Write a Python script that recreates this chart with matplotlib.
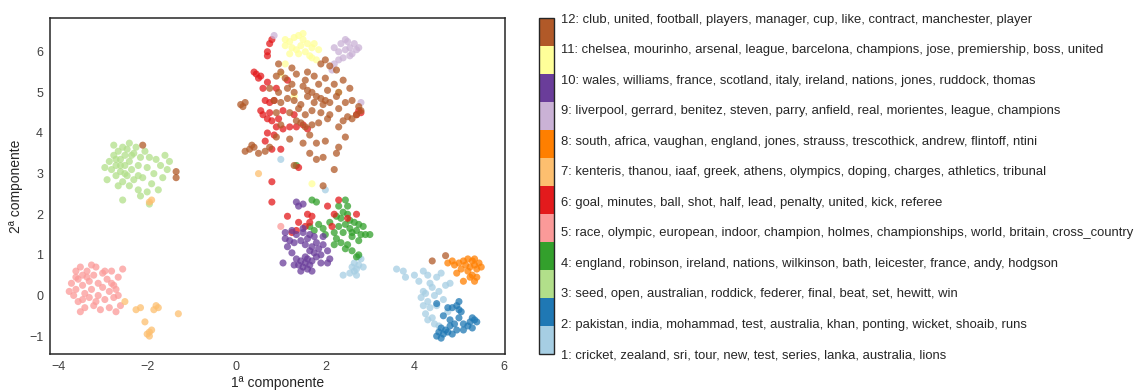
import numpy as np
import matplotlib
matplotlib.use("Agg")
import matplotlib.pyplot as plt
from matplotlib.cm import ScalarMappable
from matplotlib.colors import Normalize

plt.rcParams['font.family'] = ['Liberation Sans', 'DejaVu Sans']

# Topic labels (top words per topic)
topics = [
    "1: cricket, zealand, sri, tour, new, test, series, lanka, australia, lions",
    "2: pakistan, india, mohammad, test, australia, khan, ponting, wicket, shoaib, runs",
    "3: seed, open, australian, roddick, federer, final, beat, set, hewitt, win",
    "4: england, robinson, ireland, nations, wilkinson, bath, leicester, france, andy, hodgson",
    "5: race, olympic, european, indoor, champion, holmes, championships, world, britain, cross_country",
    "6: goal, minutes, ball, shot, half, lead, penalty, united, kick, referee",
    "7: kenteris, thanou, iaaf, greek, athens, olympics, doping, charges, athletics, tribunal",
    "8: south, africa, vaughan, england, jones, strauss, trescothick, andrew, flintoff, ntini",
    "9: liverpool, gerrard, benitez, steven, parry, anfield, real, morientes, league, champions",
    "10: wales, williams, france, scotland, italy, ireland, nations, jones, ruddock, thomas",
    "11: chelsea, mourinho, arsenal, league, barcelona, champions, jose, premiership, boss, united",
    "12: club, united, football, players, manager, cup, like, contract, manchester, player",
]

# 2-D projected document coordinates, grouped by topic
topic1 = [(2.6, 0.7), (2.65, 0.8), (2.7, 0.65), (2.75, 0.75), (2.8, 0.9), (2.7, 0.5),
          (2.55, 0.55), (2.4, 0.5), (2.75, 0.95), (2.85, 0.7), (2.65, 0.6), (1.0, 3.35),
          (3.6, 0.65), (3.75, 0.6), (3.8, 0.45), (4.0, 0.5), (4.2, 0.6), (4.3, 0.5),
          (4.1, 0.35), (4.2, 0.1), (4.15, -0.05), (4.25, 0.05), (4.3, -0.15), (4.2, -0.25),
          (4.35, -0.3), (4.4, 0.2), (4.45, 0.0), (4.25, -0.45), (4.3, -0.6), (4.4, -0.55),
          (4.45, -0.7), (4.55, -0.75), (4.5, -0.25), (4.6, 0.55), (4.55, 0.1), (4.65, -0.1),
          (4.5, 0.45), (4.7, 0.25), (4.8, 0.3), (4.75, -0.4), (4.35, 0.3), (2.0, 2.6)]
topic2 = [(4.5, -1.0), (4.55, -0.9), (4.6, -1.05), (4.65, -0.95), (4.7, -0.85), (4.75, -0.9),
          (4.8, -0.75), (4.85, -0.95), (4.9, -0.7), (4.95, -0.85), (5.0, -0.55), (5.05, -0.4),
          (5.0, -0.35), (4.95, -0.25), (4.85, -0.3), (5.1, -0.7), (5.2, -0.75), (5.25, -0.65),
          (5.3, -0.8), (5.35, -0.6), (5.4, -0.65), (5.3, -0.55), (4.75, -0.3), (4.5, -0.2),
          (4.65, -0.5), (4.8, -0.6), (5.0, -0.15), (5.1, -0.85), (4.6, -0.8)]
topic3 = [(-2.85, 3.3), (-2.8, 3.1), (-2.75, 3.45), (-2.7, 3.2), (-2.7, 2.95), (-2.65, 3.55),
          (-2.6, 3.35), (-2.6, 3.05), (-2.55, 2.8), (-2.55, 3.65), (-2.5, 3.2), (-2.5, 3.45),
          (-2.45, 2.95), (-2.45, 3.6), (-2.4, 3.3), (-2.4, 2.7), (-2.35, 3.1), (-2.3, 3.5),
          (-2.3, 2.85), (-2.25, 3.65), (-2.2, 3.2), (-2.2, 2.6), (-2.15, 3.4), (-2.1, 2.9),
          (-2.05, 3.55), (-2.0, 3.15), (-2.0, 2.55), (-1.95, 3.4), (-1.9, 2.75), (-1.85, 3.0),
          (-1.8, 3.35), (-1.75, 2.6), (-1.7, 3.2), (-1.65, 2.9), (-1.6, 3.45), (-1.55, 3.1),
          (-1.5, 3.3), (-2.9, 2.85), (-2.95, 3.15), (-2.65, 2.7), (-2.55, 2.35), (-2.15, 2.45),
          (-1.95, 2.25), (-2.75, 3.7), (-2.4, 3.75), (-2.6, 3.2), (-2.7, 3.35), (-2.5, 3.0),
          (-2.35, 3.45), (-2.2, 2.95)]
topic4 = [(1.7, 2.35), (1.8, 2.3), (1.65, 1.7), (1.75, 1.6), (1.85, 1.75), (1.95, 1.65),
          (2.0, 1.5), (2.1, 1.8), (2.2, 1.55), (2.25, 1.4), (2.3, 1.7), (2.35, 1.9),
          (2.4, 1.55), (2.45, 1.75), (2.5, 2.0), (2.55, 1.65), (2.6, 1.45), (2.65, 1.8),
          (2.7, 1.6), (2.75, 1.35), (2.8, 1.5), (2.9, 1.5), (3.0, 1.5), (2.5, 2.2),
          (2.45, 2.35), (2.3, 2.2), (2.35, 1.3), (2.5, 1.25), (2.6, 1.1), (2.7, 0.95),
          (2.75, 1.0), (2.45, 1.15), (2.2, 1.25), (2.85, 1.7), (2.55, 1.85), (2.4, 2.05),
          (2.25, 1.95), (2.75, 1.75), (2.6, 1.55), (1.35, 3.2)]
topic5 = [(-3.6, 0.6), (-3.55, 0.4), (-3.6, 0.15), (-3.65, 0.0), (-3.55, -0.15), (-3.5, 0.7),
          (-3.45, 0.5), (-3.45, 0.25), (-3.4, 0.05), (-3.4, -0.3), (-3.35, 0.6), (-3.3, 0.35),
          (-3.3, -0.05), (-3.25, 0.15), (-3.2, 0.5), (-3.2, -0.25), (-3.15, 0.7), (-3.1, 0.3),
          (-3.1, 0.0), (-3.05, -0.35), (-3.0, 0.55), (-3.0, 0.2), (-2.95, -0.1), (-2.9, 0.4),
          (-2.85, 0.1), (-2.85, -0.3), (-2.8, 0.6), (-2.75, 0.25), (-2.75, -0.05), (-2.7, -0.4),
          (-2.65, 0.45), (-2.65, 0.0), (-2.6, -0.25), (-2.55, 0.65), (-3.7, 0.3), (-3.75, 0.1),
          (-3.5, -0.4), (-3.35, 0.45), (-3.25, 0.75), (-2.95, 0.6), (-3.15, -0.15), (-2.8, 0.3),
          (-2.7, 0.15), (-3.6, 0.45), (-3.45, -0.1), (1.0, 1.7)]
topic6 = [(0.8, 6.3), (0.75, 6.2), (0.7, 6.0), (0.7, 5.9), (0.45, 5.45), (0.5, 5.35),
          (0.4, 5.5), (0.55, 5.4), (0.6, 5.1), (0.7, 5.25), (0.75, 4.75), (0.85, 4.8),
          (0.65, 4.8), (0.6, 4.45), (0.7, 4.35), (0.75, 4.5), (0.8, 4.3), (0.55, 4.55),
          (0.9, 4.15), (0.95, 4.35), (1.05, 4.1), (0.85, 3.95), (0.7, 4.0), (0.65, 3.8),
          (0.8, 3.6), (1.0, 3.6), (1.2, 4.15), (1.35, 4.15), (1.5, 4.2), (1.6, 4.1),
          (1.3, 4.45), (1.05, 4.55), (0.9, 5.1), (1.15, 5.3), (2.75, 4.55), (2.7, 4.45),
          (2.8, 4.5), (1.4, 3.15), (0.8, 2.8), (0.8, 2.3), (1.15, 1.95), (1.4, 1.8),
          (1.6, 2.0), (1.7, 1.95), (1.35, 1.6), (1.55, 1.7), (1.65, 1.8), (2.2, 2.0),
          (2.05, 2.2), (2.3, 2.35), (2.15, 1.7), (2.7, 2.0), (2.5, 1.9), (1.25, 1.55)]
topic7 = [(-2.5, -0.15), (-2.25, -0.35), (-2.15, -0.3), (-1.85, -0.35), (-1.75, -0.3),
          (-1.8, -0.25), (-2.05, -0.65), (-1.95, -0.9), (-1.9, -0.85), (-2.0, -0.95),
          (-1.95, -1.0), (-1.3, -0.45), (-1.9, 2.35), (-1.95, 2.3), (0.5, 3.0)]
topic8 = [(4.9, 0.75), (5.0, 0.8), (5.05, 0.65), (5.1, 0.85), (4.85, 0.85), (5.15, 0.75),
          (5.2, 0.6), (5.25, 0.45), (5.3, 0.5), (5.35, 0.35), (5.4, 0.45), (5.3, 0.85),
          (5.35, 0.75), (5.4, 0.65), (5.45, 0.8), (5.5, 0.7), (5.25, 0.7), (5.2, 0.9),
          (5.1, 0.35), (4.95, 0.55), (5.35, 0.9), (4.75, 0.8)]
topic9 = [(2.2, 6.1), (2.3, 6.0), (2.35, 6.2), (2.45, 6.05), (2.5, 6.25), (2.55, 6.1),
          (2.6, 5.95), (2.65, 6.2), (2.7, 6.05), (2.4, 5.85), (2.55, 5.9), (2.3, 5.8),
          (2.45, 6.3), (2.75, 6.1), (2.2, 5.7), (2.15, 5.55), (2.8, 4.75), (0.85, 6.4)]
topic10 = [(1.35, 2.3), (1.4, 2.2), (1.5, 2.25), (1.1, 1.4), (1.1, 1.55), (1.2, 1.35),
           (1.25, 1.6), (1.3, 1.3), (1.35, 1.5), (1.45, 1.35), (1.5, 1.55), (1.55, 1.25),
           (1.6, 1.4), (1.65, 1.5), (1.7, 1.2), (1.75, 1.05), (1.8, 1.3), (1.85, 1.15),
           (1.9, 1.0), (1.95, 1.25), (2.05, 1.1), (1.4, 0.75), (1.45, 0.85), (1.5, 0.7),
           (1.55, 0.8), (1.6, 0.65), (1.6, 0.9), (1.65, 0.75), (1.7, 0.85), (1.55, 0.95),
           (1.35, 0.9), (1.3, 0.75), (1.7, 0.6), (1.45, 0.6), (1.05, 0.8), (1.9, 0.8),
           (2.1, 0.9), (2.05, 0.8), (1.8, 0.95), (1.25, 1.05), (1.75, 1.45), (1.15, 1.2),
           (1.5, 1.65), (1.65, 1.1), (1.95, 1.45)]
topic11 = [(1.1, 6.3), (1.2, 6.25), (1.3, 6.35), (1.4, 6.4), (1.5, 6.3), (1.45, 6.15),
           (1.6, 6.2), (1.7, 6.1), (1.55, 6.0), (1.35, 6.05), (1.25, 6.1), (1.75, 6.2),
           (1.85, 6.05), (1.4, 5.95), (1.65, 5.9), (1.2, 5.95), (1.1, 6.15), (1.5, 6.45),
           (1.7, 5.85), (1.8, 5.8), (1.1, 5.7), (1.0, 5.45), (1.7, 2.75), (1.3, 4.9),
           (2.3, 5.0)]
topic12 = [(0.95, 5.7), (1.25, 5.6), (1.6, 5.5), (1.9, 5.7), (2.1, 5.65), (2.25, 5.55),
           (2.0, 5.8), (0.9, 5.4), (1.1, 5.35), (1.35, 5.45), (1.55, 5.3), (1.75, 5.4),
           (2.0, 5.35), (2.2, 5.2), (2.4, 5.3), (1.0, 5.5), (0.75, 5.1), (0.95, 5.0),
           (1.15, 5.1), (1.3, 5.0), (1.5, 5.15), (1.7, 5.0), (1.85, 5.2), (2.05, 5.05),
           (2.3, 5.0), (2.55, 5.1), (1.25, 5.2), (1.6, 5.05), (0.85, 4.8), (1.0, 4.75),
           (1.15, 4.85), (1.3, 4.8), (1.45, 4.7), (1.6, 4.9), (1.75, 4.75), (1.9, 4.85),
           (2.0, 4.8), (2.1, 4.75), (2.25, 4.9), (2.45, 4.75), (2.6, 4.8), (1.8, 4.9),
           (1.95, 4.7), (0.1, 4.7), (0.2, 4.75), (0.15, 4.65), (0.9, 4.5), (1.2, 4.5),
           (1.4, 4.6), (1.55, 4.45), (1.7, 4.55), (1.9, 4.5), (2.1, 4.45), (2.3, 4.6),
           (2.5, 4.4), (2.7, 4.45), (2.8, 4.55), (2.75, 4.65), (2.6, 4.35), (1.0, 4.2),
           (1.35, 4.3), (1.55, 4.15), (1.7, 4.2), (1.85, 4.25), (2.05, 4.35), (2.3, 4.15),
           (2.4, 4.3), (1.45, 4.25), (0.9, 3.9), (1.2, 3.85), (1.65, 3.95), (1.8, 3.75),
           (2.0, 3.8), (2.45, 3.9), (1.5, 3.75), (0.2, 3.55), (0.3, 3.6), (0.35, 3.7),
           (0.4, 3.65), (0.5, 3.5), (0.65, 3.55), (1.65, 3.5), (1.95, 3.4), (2.25, 3.5),
           (2.3, 3.65), (0.75, 3.65), (1.3, 3.2), (2.2, 3.1), (1.95, 2.7), (1.8, 3.35),
           (-2.1, 3.7), (-1.35, 3.05), (-1.35, 2.9), (4.4, 0.85), (4.7, 0.98)]

groups = [topic1, topic2, topic3, topic4, topic5, topic6,
          topic7, topic8, topic9, topic10, topic11, topic12]

xs, ys, labels = [], [], []
for k, pts in enumerate(groups):
    for (x, y) in pts:
        xs.append(x)
        ys.append(y)
        labels.append(k)

cmap = plt.get_cmap('Paired')
norm = Normalize(vmin=0, vmax=11)

fig = plt.figure(figsize=(11.38, 3.92), dpi=100)
ax = fig.add_axes([0.044, 0.097, 0.4, 0.857])
ax.scatter(xs, ys, c=labels, cmap=cmap, norm=norm, s=26, alpha=0.75, linewidths=0)

ax.set_xlim(-4.18, 6.04)
ax.set_ylim(-1.44, 6.83)
ax.set_xticks([-4, -2, 0, 2, 4, 6])
ax.set_yticks([-1, 0, 1, 2, 3, 4, 5, 6])
ax.set_xlabel("1ª componente", fontsize=10, color='#262626', labelpad=2)
ax.set_ylabel("2ª componente", fontsize=10, color='#262626', labelpad=4)
ax.tick_params(length=0, labelsize=9, colors='#404040', pad=5)
for sp in ax.spines.values():
    sp.set_color('#262626')
    sp.set_linewidth(1.1)

cax = fig.add_axes([0.4736, 0.097, 0.0132, 0.857])
sm = ScalarMappable(norm=norm, cmap=cmap)
cb = fig.colorbar(sm, cax=cax, ticks=range(12))
cb.ax.set_yticklabels(topics)
cb.ax.tick_params(length=0, labelsize=9.4, colors='#262626', pad=5)
cb.outline.set_edgecolor('#262626')
cb.outline.set_linewidth(1.0)

fig.savefig("out.png", dpi=100)
